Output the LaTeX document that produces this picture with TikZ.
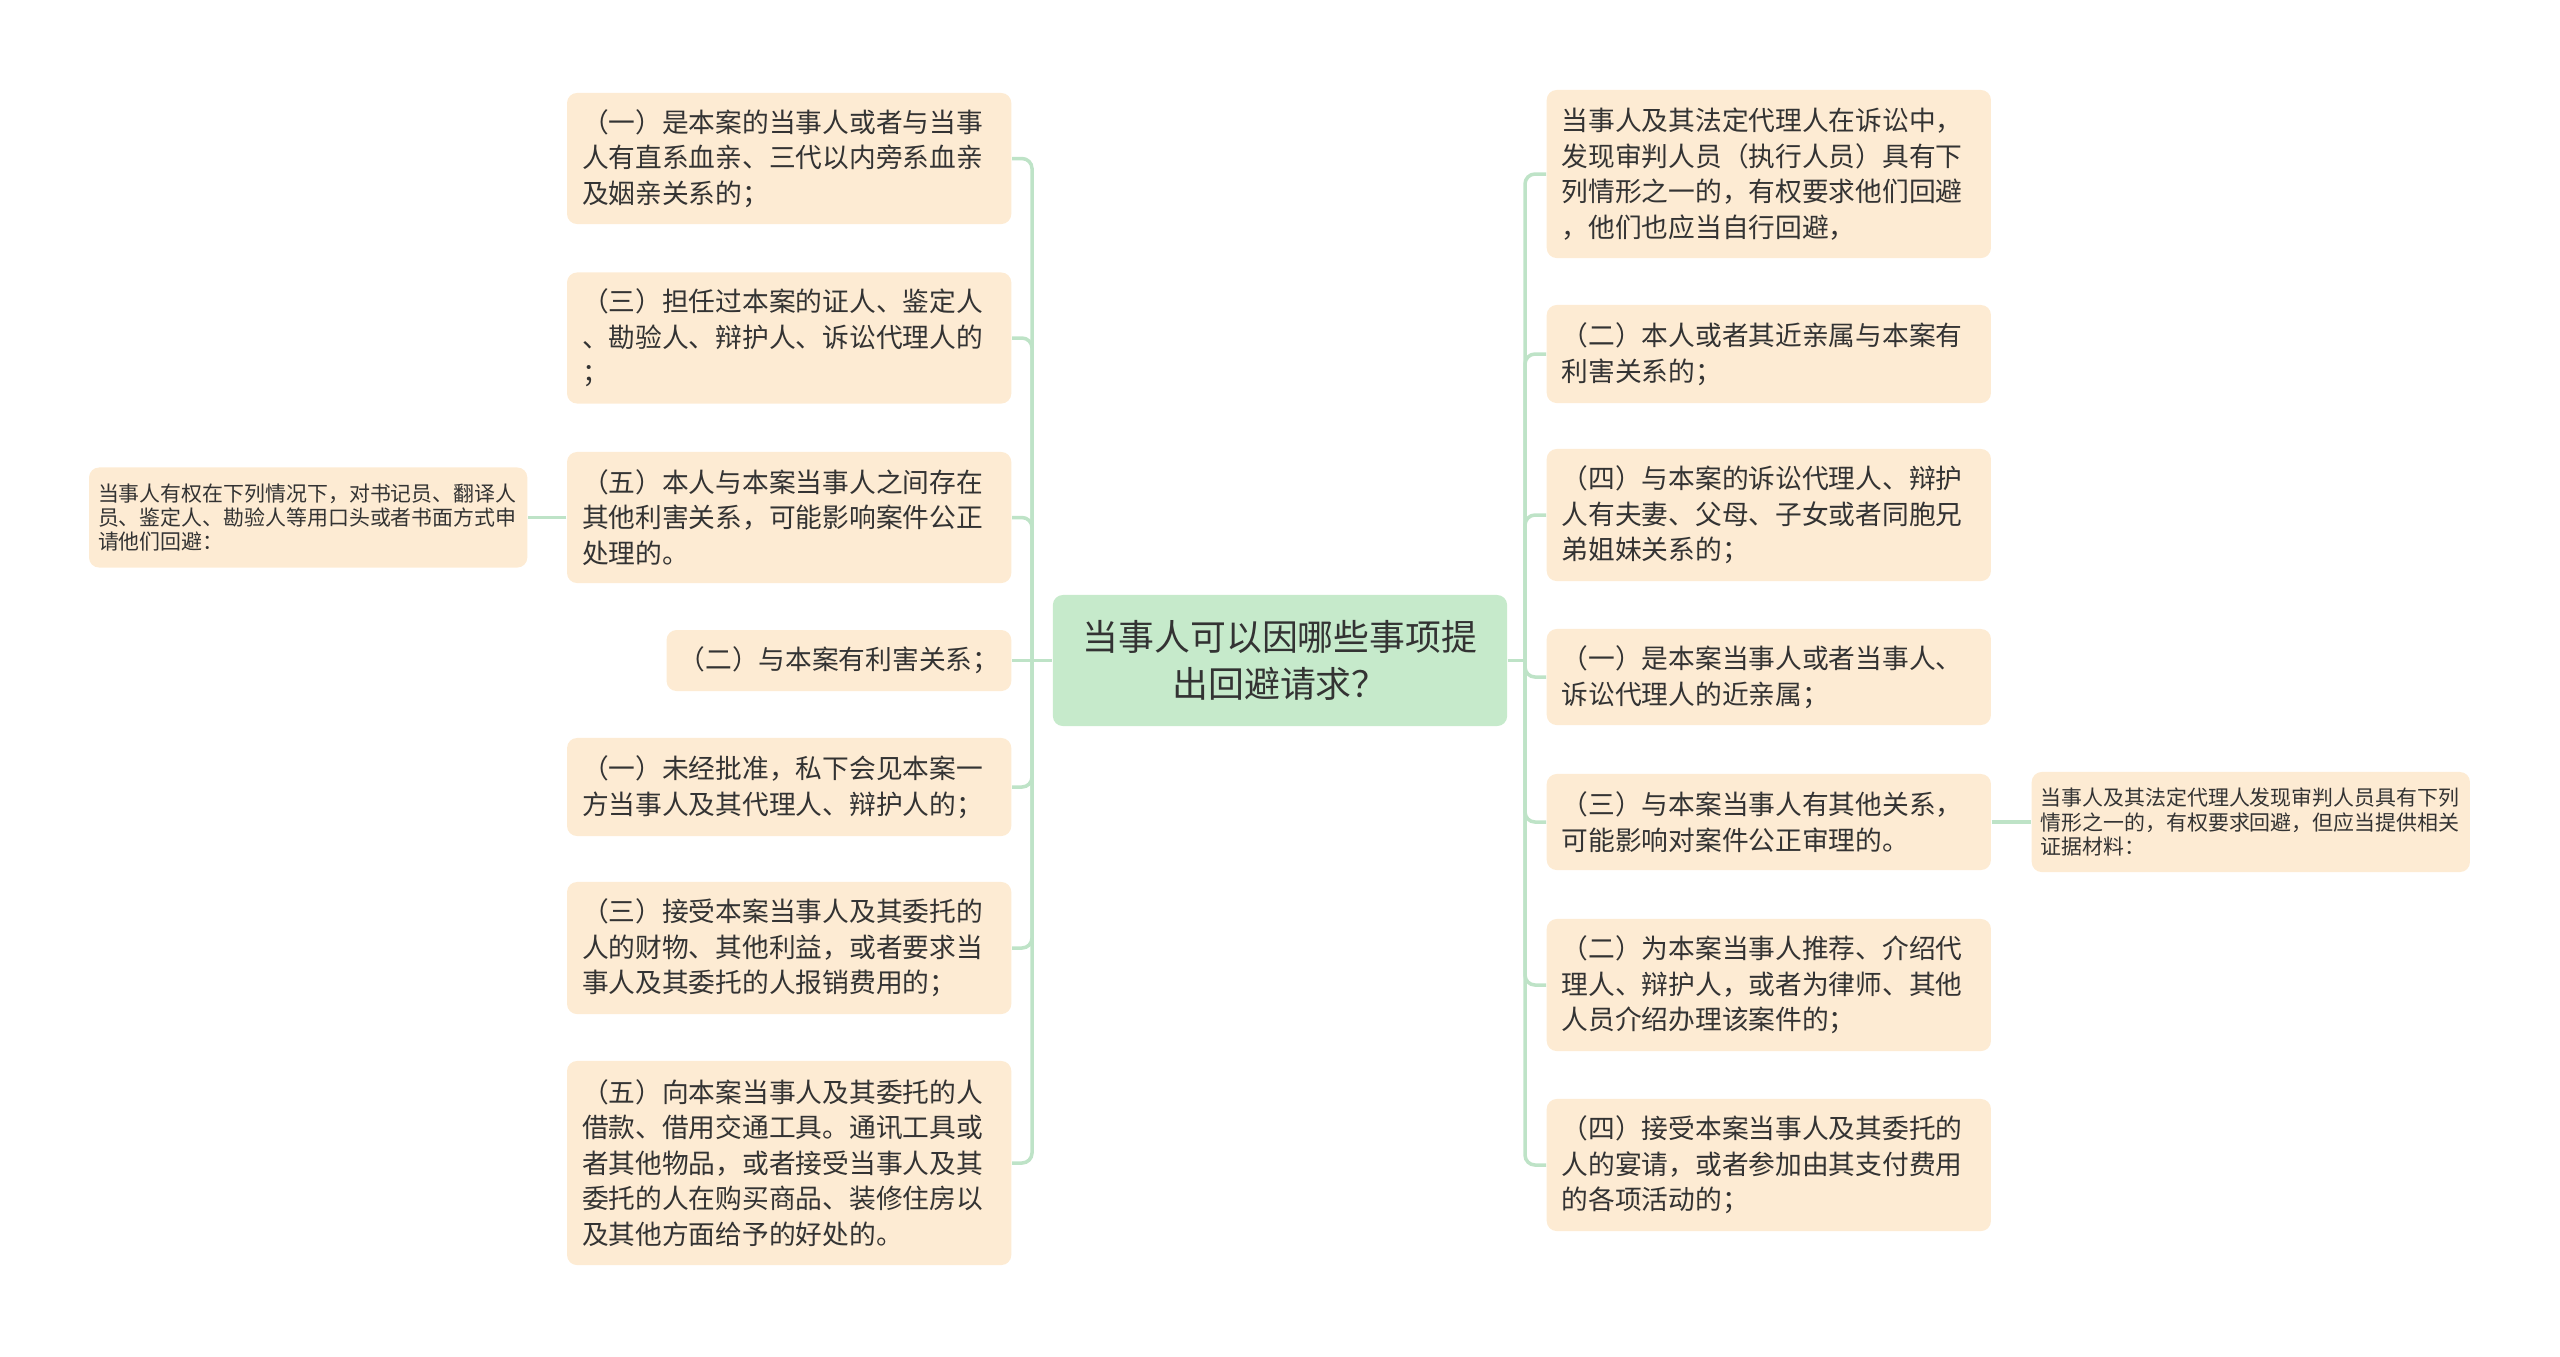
\documentclass[tikz,border=0pt]{standalone}
\usepackage{fontspec}
\newfontfamily\cjkfont{Noto Sans CJK SC}
\definecolor{boxfill}{HTML}{FDEBD3}
\definecolor{rootfill}{HTML}{C6EACB}
\definecolor{linkcol}{HTML}{BEE3C7}
\definecolor{inkcol}{HTML}{333333}
\begin{document}
\begin{tikzpicture}[
        x = .01cm,
        y = -.01cm,
        item/.style = {fill=boxfill, rounded corners=.1cm, text=inkcol,
            font=\cjkfont\fontsize{7.6pt}{10.1pt}\selectfont,
            inner xsep=.15cm, inner ysep=.04cm, text width=4.14cm, align=left},
        note/.style = {item, font=\cjkfont\fontsize{5.95pt}{6.85pt}\selectfont,
            inner xsep=.09cm, text width=4.2cm, minimum height=1cm},
        root/.style = {fill=rootfill, rounded corners=.1cm, text=inkcol,
            font=\cjkfont\fontsize{10.2pt}{13.4pt}\selectfont, align=center,
            minimum width=4.54cm, minimum height=1.31cm},
        link/.style = {draw=linkcol, line width=1pt, rounded corners=.1cm}
    ]
        \useasboundingbox (0,0) rectangle (2560,1356);

        \node[root] (top) at (1280,660.5) {当事人可以因哪些事项提\\出回避请求？};

        % left side
        \node[item, anchor=east, minimum height=1.31cm] (l1) at (1012,158.5)
            {（一）是本案的当事人或者与当事\\人有直系血亲、三代以内旁系血亲\\及姻亲关系的；};
        \node[item, anchor=east, minimum height=1.31cm] (l2) at (1012,338)
            {（三）担任过本案的证人、鉴定人\\、勘验人、辩护人、诉讼代理人的\\；};
        \node[item, anchor=east, minimum height=1.31cm] (l3) at (1012,517.5)
            {（五）本人与本案当事人之间存在\\其他利害关系，可能影响案件公正\\处理的。};
        \node[item, anchor=east, minimum height=.61cm, text width=, inner xsep=.12cm] (l4) at (1012,660.5)
            {（二）与本案有利害关系；};
        \node[item, anchor=east, minimum height=.98cm] (l5) at (1012,787)
            {（一）未经批准，私下会见本案一\\方当事人及其代理人、辩护人的；};
        \node[item, anchor=east, minimum height=1.32cm] (l6) at (1012,948)
            {（三）接受本案当事人及其委托的\\人的财物、其他利益，或者要求当\\事人及其委托的人报销费用的；};
        \node[item, anchor=east, minimum height=2.04cm] (l7) at (1012,1163)
            {（五）向本案当事人及其委托的人\\借款、借用交通工具。通讯工具或\\者其他物品，或者接受当事人及其\\委托的人在购买商品、装修住房以\\及其他方面给予的好处的。};
        \node[note, anchor=east] (lnote) at (528,517.5)
            {当事人有权在下列情况下，对书记员、翻译人\\员、鉴定人、勘验人等用口头或者书面方式申\\请他们回避：};

        % right side
        \node[item, anchor=west, minimum height=1.68cm] (r1) at (1546,174)
            {当事人及其法定代理人在诉讼中，\\发现审判人员（执行人员）具有下\\列情形之一的，有权要求他们回避\\，他们也应当自行回避，};
        \node[item, anchor=west, minimum height=.98cm] (r2) at (1546,354)
            {（二）本人或者其近亲属与本案有\\利害关系的；};
        \node[item, anchor=west, minimum height=1.32cm] (r3) at (1546,515)
            {（四）与本案的诉讼代理人、辩护\\人有夫妻、父母、子女或者同胞兄\\弟姐妹关系的；};
        \node[item, anchor=west, minimum height=.96cm] (r4) at (1546,677)
            {（一）是本案当事人或者当事人、\\诉讼代理人的近亲属；};
        \node[item, anchor=west, minimum height=.96cm] (r5) at (1546,822)
            {（三）与本案当事人有其他关系，\\可能影响对案件公正审理的。};
        \node[item, anchor=west, minimum height=1.32cm] (r6) at (1546,985)
            {（二）为本案当事人推荐、介绍代\\理人、辩护人，或者为律师、其他\\人员介绍办理该案件的；};
        \node[item, anchor=west, minimum height=1.32cm] (r7) at (1546,1165)
            {（四）接受本案当事人及其委托的\\人的宴请，或者参加由其支付费用\\的各项活动的；};
        \node[note, anchor=west] (rnote) at (2031,822)
            {当事人及其法定代理人发现审判人员具有下列\\情形之一的，有权要求回避，但应当提供相关\\证据材料：};

        % connectors
        \coordinate (ltrunk) at (1032,660.5);
        \coordinate (rtrunk) at (1525,660.5);
        \draw[link] (top.west) -- (l4.east);
        \foreach \n in {l1,l2,l3,l5,l6,l7}
            \draw[link] (ltrunk) |- (\n.east);
        \draw[link] (top.east) -- (rtrunk);
        \foreach \n in {r1,r2,r3,r4,r5,r6,r7}
            \draw[link] (rtrunk) |- (\n.west);
        \draw[link] (l3.west) -- (lnote.east);
        \draw[link] (r5.east) -- (rnote.west);
    \end{tikzpicture}
\end{document}
